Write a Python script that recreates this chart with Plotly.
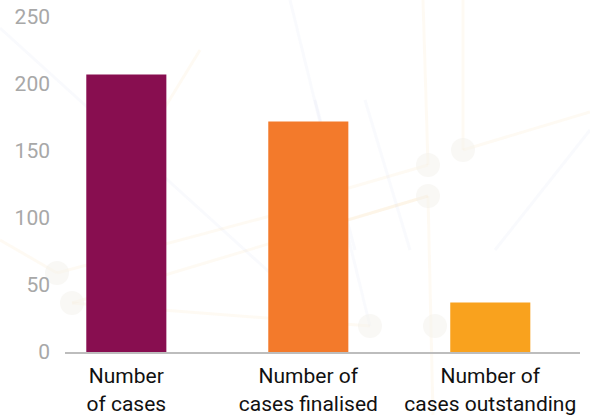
import plotly.graph_objects as go

categories = ["Number<br>of cases", "Number of<br>cases finalised", "Number of<br>cases outstanding"]
values = [207, 172, 37]
colors = ["#880E50", "#F37A2B", "#F9A21E"]
y_ticks = [0, 50, 100, 150, 200, 250]

W, H = 590, 415
L, R, T, B = 65, 10, 17, 63
pw, ph = W - L - R, H - T - B

def px(x):
    return (x - L) / pw

def py(y):
    return (H - B - y) / ph

fig = go.Figure(go.Bar(
    x=categories, y=values, marker=dict(color=colors, line=dict(width=0)),
    width=0.44, hoverinfo="skip",
))

# faint decorative background network
BL = "rgba(215,225,245,0.16)"
OR = "rgba(245,215,160,0.13)"
deco_lines = [
    ((0, 28), (300, 300), BL),
    ((200, 50), (90, 230), OR),
    ((57, 273), (330, 200), OR),
    ((72, 303), (428, 196), OR),
    ((72, 303), (370, 326), OR),
    ((0, 240), (57, 273), OR),
    ((428, 165), (423, 0), OR),
    ((463, 150), (463, 0), OR),
    ((463, 150), (590, 112), OR),
    ((428, 165), (290, 205), OR),
    ((428, 196), (290, 237), OR),
    ((428, 196), (433, 415), OR),
    ((315, 100), (355, 250), BL),
    ((365, 100), (410, 250), BL),
    ((590, 130), (495, 250), BL),
    ((290, 0), (370, 326), BL),
]
shapes = []
for (x0, y0), (x1, y1), c in deco_lines:
    shapes.append(dict(type="line", xref="paper", yref="paper", layer="below",
                       x0=px(x0), y0=py(y0), x1=px(x1), y1=py(y1),
                       line=dict(color=c, width=3)))
for cx, cy in [(57, 273), (72, 303), (428, 165), (463, 150), (428, 196), (370, 326), (435, 326)]:
    r = 12
    shapes.append(dict(type="circle", xref="paper", yref="paper", layer="below",
                       x0=px(cx - r), y0=py(cy + r), x1=px(cx + r), y1=py(cy - r),
                       fillcolor="rgba(244,242,236,0.5)", line=dict(width=0)))

fig.update_layout(
    width=W, height=H,
    margin=dict(l=L, r=R, t=T, b=B, pad=0, autoexpand=False),
    paper_bgcolor="white", plot_bgcolor="rgba(0,0,0,0)",
    font=dict(family="Roboto, Arial, sans-serif"),
    showlegend=False,
    shapes=shapes,
    xaxis=dict(
        range=[-0.337, 2.493], showgrid=False, zeroline=False, automargin=False,
        showline=True, linecolor="#bdbdbd", linewidth=2,
        ticks="", ticklabelstandoff=4, tickfont=dict(size=21, color="#111111"),
    ),
    yaxis=dict(
        range=[0, 250], tickvals=y_ticks, showgrid=False, zeroline=False,
        showline=False, ticks="", ticklabelstandoff=14, automargin=False,
        tickfont=dict(size=21, color="#a8a8a8"),
    ),
)

fig.write_html("out.html")
